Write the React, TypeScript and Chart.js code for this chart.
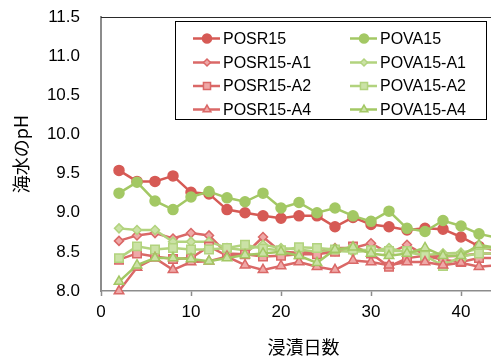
import { useEffect, useRef } from 'react';
import { Chart, registerables } from 'chart.js';
import { drawPoint } from 'chart.js/helpers';

Chart.register(...registerables);

// Immersion days (the final point sits past the visible edge of the axis)
const days = [2, 4, 6, 8, 10, 12, 14, 16, 18, 20, 22, 24, 26, 28, 30, 32, 34, 36, 38, 40, 42, 44];

const posr15 = [9.54, 9.40, 9.40, 9.47, 9.26, 9.24, 9.04, 9.00, 8.96, 8.93, 8.96, 8.96, 8.82, 8.94, 8.85, 8.82, 8.78, 8.80, 8.79, 8.69, 8.57, 8.51];
const pova15 = [9.25, 9.39, 9.15, 9.04, 9.20, 9.27, 9.19, 9.14, 9.25, 9.06, 9.13, 9.00, 9.06, 8.96, 8.89, 9.02, 8.80, 8.76, 8.90, 8.83, 8.73, 8.68];
const posr15A1 = [8.64, 8.71, 8.74, 8.67, 8.74, 8.71, 8.48, 8.47, 8.69, 8.50, 8.49, 8.50, 8.55, 8.55, 8.61, 8.48, 8.59, 8.46, 8.44, 8.45, 8.48, 8.48];
const pova15A1 = [8.80, 8.78, 8.78, 8.63, 8.63, 8.63, 8.55, 8.52, 8.59, 8.55, 8.53, 8.50, 8.51, 8.50, 8.51, 8.55, 8.49, 8.46, 8.48, 8.49, 8.54, 8.55];
const posr15A2 = [8.40, 8.48, 8.44, 8.41, 8.42, 8.57, 8.45, 8.47, 8.44, 8.45, 8.47, 8.47, 8.50, 8.57, 8.48, 8.31, 8.42, 8.45, 8.40, 8.37, 8.42, 8.42];
const pova15A2 = [8.42, 8.57, 8.53, 8.55, 8.53, 8.53, 8.55, 8.59, 8.54, 8.52, 8.56, 8.55, 8.53, 8.53, 8.52, 8.51, 8.51, 8.45, 8.32, 8.44, 8.48, 8.48];
const posr15A4 = [8.00, 8.30, 8.42, 8.27, 8.37, 8.38, 8.44, 8.33, 8.27, 8.32, 8.37, 8.31, 8.27, 8.39, 8.37, 8.33, 8.37, 8.37, 8.33, 8.36, 8.31, 8.33];
const pova15A4 = [8.12, 8.33, 8.42, 8.42, 8.41, 8.38, 8.42, 8.46, 8.48, 8.50, 8.45, 8.36, 8.53, 8.56, 8.48, 8.45, 8.48, 8.55, 8.45, 8.45, 8.59, 8.55];

const seriesNames = ['POSR15', 'POVA15', 'POSR15-A1', 'POVA15-A1', 'POSR15-A2', 'POVA15-A2', 'POSR15-A4', 'POVA15-A4'];
const seriesValues = [posr15, pova15, posr15A1, pova15A1, posr15A2, pova15A2, posr15A4, pova15A4];

const yTicks = [8.0, 8.5, 9.0, 9.5, 10.0, 10.5, 11.0, 11.5];
const xTicks = [0, 10, 20, 30, 40];

const LATIN = '"Liberation Sans", Arial, sans-serif';
const CJK = '"Noto Sans CJK JP", sans-serif';

const RED = '#D65A55';
const RED_A = '#DA6867';
const PINK = '#EFA8A7';
const GREEN = '#A3C864';
const GREEN_A = '#B2D37E';
const PALE_GREEN = '#CBE2A6';

type Look = { line: string; fill: string; edge: string; style: string; radius: number; legendRadius: number };

const looks: Look[] = [
  { line: RED, fill: RED, edge: RED, style: 'circle', radius: 5, legendRadius: 4.5 },
  { line: GREEN, fill: GREEN, edge: GREEN, style: 'circle', radius: 5, legendRadius: 4.5 },
  { line: RED_A, fill: PINK, edge: RED_A, style: 'rectRot', radius: 4.5, legendRadius: 3.5 },
  { line: GREEN_A, fill: PALE_GREEN, edge: GREEN_A, style: 'rectRot', radius: 4.5, legendRadius: 3.5 },
  { line: RED_A, fill: PINK, edge: RED_A, style: 'rect', radius: 6, legendRadius: 5 },
  { line: GREEN_A, fill: PALE_GREEN, edge: GREEN_A, style: 'rect', radius: 6, legendRadius: 5 },
  { line: RED_A, fill: PINK, edge: RED_A, style: 'triangle', radius: 5.5, legendRadius: 4.5 },
  { line: GREEN, fill: PALE_GREEN, edge: GREEN, style: 'triangle', radius: 5.5, legendRadius: 4.5 },
];

// Black frame line along the top of the plot area
const topFrame = {
  id: 'topFrame',
  beforeDatasetsDraw(chart: any) {
    const { ctx, chartArea: a } = chart;
    ctx.save();
    ctx.strokeStyle = '#2a2a2a';
    ctx.lineWidth = 1;
    ctx.beginPath();
    ctx.moveTo(a.left, Math.round(a.top) + 0.5);
    ctx.lineTo(a.right, Math.round(a.top) + 0.5);
    ctx.stroke();
    ctx.restore();
  },
};

// Two-column boxed legend inside the plot area
const boxedLegend = {
  id: 'boxedLegend',
  afterDraw(chart: any) {
    const { ctx } = chart;
    const left = 175.5, top = 21.5, right = 486.5, bottom = 119.5;
    ctx.save();
    ctx.fillStyle = '#ffffff';
    ctx.fillRect(left, top, right - left, bottom - top);
    ctx.strokeStyle = '#000000';
    ctx.lineWidth = 1;
    ctx.strokeRect(left, top, right - left, bottom - top);
    const colX = [193, 350];
    const rowY = [38.5, 62.5, 86, 109.5];
    ctx.font = `16px ${LATIN}`;
    ctx.textBaseline = 'middle';
    ctx.textAlign = 'left';
    seriesNames.forEach((name, i) => {
      const lk = looks[i];
      const x0 = colX[i % 2];
      const y = rowY[Math.floor(i / 2)];
      ctx.strokeStyle = lk.line;
      ctx.lineWidth = 2.5;
      ctx.beginPath();
      ctx.moveTo(x0, y);
      ctx.lineTo(x0 + 27, y);
      ctx.stroke();
      ctx.fillStyle = lk.fill;
      ctx.strokeStyle = lk.edge;
      ctx.lineWidth = 1.5;
      drawPoint(ctx, { pointStyle: lk.style as any, radius: lk.legendRadius, rotation: 0, borderWidth: 1.5 }, x0 + 14, y);
      ctx.fillStyle = '#000000';
      ctx.fillText(name, x0 + 30, y + 1);
    });
    ctx.restore();
  },
};

export default function App() {
  const ref = useRef<HTMLCanvasElement>(null);

  useEffect(() => {
    if (!ref.current) return;
    const datasets = seriesNames.map((name, i) => ({
      label: name,
      data: days.map((d, k) => ({ x: d, y: seriesValues[i][k] })),
      borderColor: looks[i].line,
      backgroundColor: looks[i].fill,
      borderWidth: 2.5,
      pointStyle: looks[i].style,
      pointRadius: looks[i].radius,
      pointBackgroundColor: looks[i].fill,
      pointBorderColor: looks[i].edge,
      pointBorderWidth: 1.5,
      tension: 0,
      clip: false as any,
      order: 7 - i,
    }));

    const chart = new Chart(ref.current, {
      type: 'line',
      data: { datasets },
      options: {
        responsive: false,
        animation: false,
        devicePixelRatio: 1,
        layout: { padding: { left: 0, right: 14, top: 17, bottom: 0 } },
        plugins: { legend: { display: false }, tooltip: { enabled: false } },
        scales: {
          x: {
            type: 'linear',
            min: 0,
            max: 45,
            afterBuildTicks: (s: any) => { s.ticks = xTicks.map((v) => ({ value: v })); },
            ticks: { font: { family: LATIN, size: 17 }, color: '#000', padding: 6, maxRotation: 0 },
            grid: { drawOnChartArea: false, tickLength: 5, color: '#8c8c8c', tickWidth: 1.5 },
            border: { color: '#8c8c8c', width: 1.5 },
            title: { display: true, text: '浸漬日数', font: { family: CJK, size: 18 }, color: '#000', padding: { top: 0, bottom: 0 } },
            afterFit: (s: any) => { s.height = 67; s.paddingLeft = 0; s.paddingRight = 0; },
          },
          y: {
            type: 'linear',
            min: 8,
            max: 11.5,
            afterBuildTicks: (s: any) => { s.ticks = yTicks.map((v) => ({ value: v })); },
            ticks: { font: { family: LATIN, size: 17 }, color: '#000', padding: 21, callback: (v: any) => Number(v).toFixed(1) },
            grid: { drawOnChartArea: false, drawTicks: false },
            border: { color: '#8c8c8c', width: 2 },
            title: { display: true, text: '海水のpH', font: { family: CJK, size: 18 }, color: '#000', padding: { top: 10, bottom: 0 } },
            afterFit: (s: any) => { s.width = 101; s.paddingTop = 0; s.paddingBottom = 0; },
          },
        },
      },
      plugins: [topFrame, boxedLegend],
    });
    return () => chart.destroy();
  }, []);

  return (
    <div style={{ position: 'fixed', left: 0, top: 0, width: 491, height: 358, overflow: 'hidden', background: '#fff' }}>
      <canvas ref={ref} width={520} height={358} style={{ display: 'block', width: 520, height: 358 }} />
    </div>
  );
}
